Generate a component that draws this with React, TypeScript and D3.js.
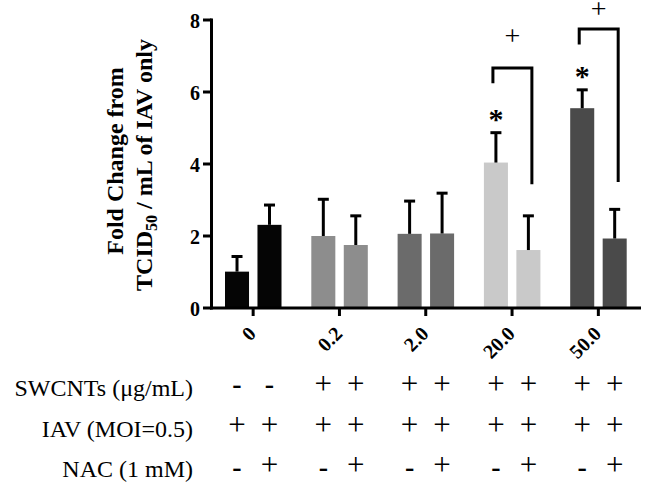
import React from "react";
import * as d3 from "d3";

const groups = ["0", "0.2", "2.0", "20.0", "50.0"];
const seriesKeys = ["noNAC", "NAC"];
const meanNoNAC = [1.01, 2.0, 2.06, 4.04, 5.55];
const meanNAC = [2.31, 1.75, 2.07, 1.61, 1.93];
const errNoNAC = [0.42, 1.02, 0.91, 0.83, 0.51];
const errNAC = [0.55, 0.81, 1.12, 0.95, 0.81];
const groupColors = ["#050505", "#8d8d8d", "#6b6b6b", "#c9c9c9", "#4a4a4a"];
const yTicks = [0, 2, 4, 6, 8];

const rowLabels = ["SWCNTs (\u03bcg/mL)", "IAV (MOI=0.5)", "NAC (1 mM)"];
const rowSWCNT = ["-", "-", "+", "+", "+", "+", "+", "+", "+", "+"];
const rowIAV = ["+", "+", "+", "+", "+", "+", "+", "+", "+", "+"];
const rowNACsign = ["-", "+", "-", "+", "-", "+", "-", "+", "-", "+"];

// significance: star over no-NAC bar, bracket between the pair
const sigGroups = ["20.0", "50.0"];
const bracketTop = [6.67, 7.75];
const bracketLeftEnd = [6.24, 7.32];
const bracketRightEnd = [3.44, 3.5];
const plusLevel = [7.58, 8.33];

const FONT = "'Liberation Serif', 'Times New Roman', serif";

export default function App() {
  const W = 645, H = 485;
  const x = d3.scaleBand<string>().domain(groups).range([210, 641.5]);
  const inner = d3.scaleBand<string>().domain(seriesKeys).range([15, 71.5]).paddingInner(0.26);
  const y = d3.scaleLinear().domain([0, 8]).range([308, 20]);
  const bw = inner.bandwidth();

  const bars: any[] = [];
  groups.forEach((g, i) => {
    [meanNoNAC[i], meanNAC[i]].forEach((v, j) => {
      const e = j === 0 ? errNoNAC[i] : errNAC[i];
      bars.push({ g, i, j, v, e, x0: (x(g) as number) + (inner(seriesKeys[j]) as number) });
    });
  });

  const rows = [rowSWCNT, rowIAV, rowNACsign];
  const plusBase = [393.5, 434.5, 474.5];
  const dashBase = [393, 433, 476];
  const labelBase = [396, 437, 477];

  return (
    <svg width={W} height={H} style={{ position: "absolute", left: 0, top: 0, background: "#fff" }} fontFamily={FONT}>
      <rect width={W} height={H} fill="#fff" />
      {/* bars */}
      {bars.map((b, k) => (
        <g key={k}>
          <rect x={b.x0} y={y(b.v)} width={bw} height={y(0) - y(b.v)} fill={groupColors[b.i]} />
          <line x1={b.x0 + bw / 2} x2={b.x0 + bw / 2} y1={y(b.v)} y2={y(b.v + b.e)} stroke="#000" strokeWidth={3} />
          <line x1={b.x0 + bw / 2 - 5.5} x2={b.x0 + bw / 2 + 5.5} y1={y(b.v + b.e)} y2={y(b.v + b.e)} stroke="#000" strokeWidth={3} />
        </g>
      ))}
      {/* y axis */}
      <line x1={211.5} x2={211.5} y1={y(8) - 1.5} y2={y(0) + 1.5} stroke="#000" strokeWidth={3} />
      {yTicks.map((t) => (
        <g key={t}>
          <line x1={203} x2={211.5} y1={y(t)} y2={y(t)} stroke="#000" strokeWidth={3} />
          <text x={200} y={y(t)} dy="0.38em" textAnchor="end" fontSize={20} fontWeight="bold">{t}</text>
        </g>
      ))}
      {/* x axis */}
      <line x1={210} x2={641} y1={y(0)} y2={y(0)} stroke="#000" strokeWidth={3} />
      {groups.map((g) => {
        const cx = (x(g) as number) + x.bandwidth() / 2;
        return (
          <g key={g}>
            <line x1={cx} x2={cx} y1={y(0)} y2={y(0) + 8} stroke="#000" strokeWidth={3} />
            <text transform={`translate(${cx + 4},335) rotate(-45)`} textAnchor="end" fontSize={20} fontWeight="bold">{g}</text>
          </g>
        );
      })}
      {/* y label */}
      <text transform="translate(123,161) rotate(-90)" textAnchor="middle" fontSize={24} fontWeight="bold">Fold Change from</text>
      <text transform="translate(152,165) rotate(-90)" textAnchor="middle" fontSize={24} fontWeight="bold">
        TCID<tspan fontSize={16} dy={5}>50</tspan><tspan dy={-5}> / mL of IAV only</tspan>
      </text>
      {/* significance */}
      {sigGroups.map((g, k) => {
        const i = groups.indexOf(g);
        const cxA = (x(g) as number) + (inner("noNAC") as number) + bw / 2;
        const cxB = (x(g) as number) + (inner("NAC") as number) + bw / 2;
        const lx = cxA - 3, rx = cxB + 3.5;
        const starY = y(meanNoNAC[i] + errNoNAC[i]) - 3.5;
        return (
          <g key={g}>
            <path d={`M${lx},${y(bracketLeftEnd[k])}V${y(bracketTop[k])}H${rx}V${y(bracketRightEnd[k])}`} fill="none" stroke="#000" strokeWidth={3} />
            <text x={cxA} y={starY} textAnchor="middle" fontSize={30} fontWeight="bold">*</text>
            <text x={(lx + rx) / 2} y={y(plusLevel[k]) + 10} textAnchor="middle" fontSize={28}>+</text>
          </g>
        );
      })}
      {/* table */}
      {rowLabels.map((l, r) => (
        <text key={l} x={193} y={labelBase[r]} textAnchor="end" fontSize={24}>{l}</text>
      ))}
      {rows.map((row, r) =>
        bars.map((b, k) =>
          row[k] === "+" ? (
            <text key={`${r}-${k}`} x={b.x0 + bw / 2} y={plusBase[r]} textAnchor="middle" fontSize={31}>+</text>
          ) : (
            <text key={`${r}-${k}`} x={b.x0 + bw / 2} y={dashBase[r]} textAnchor="middle" fontSize={28} fontWeight="bold">-</text>
          )
        )
      )}
    </svg>
  );
}
